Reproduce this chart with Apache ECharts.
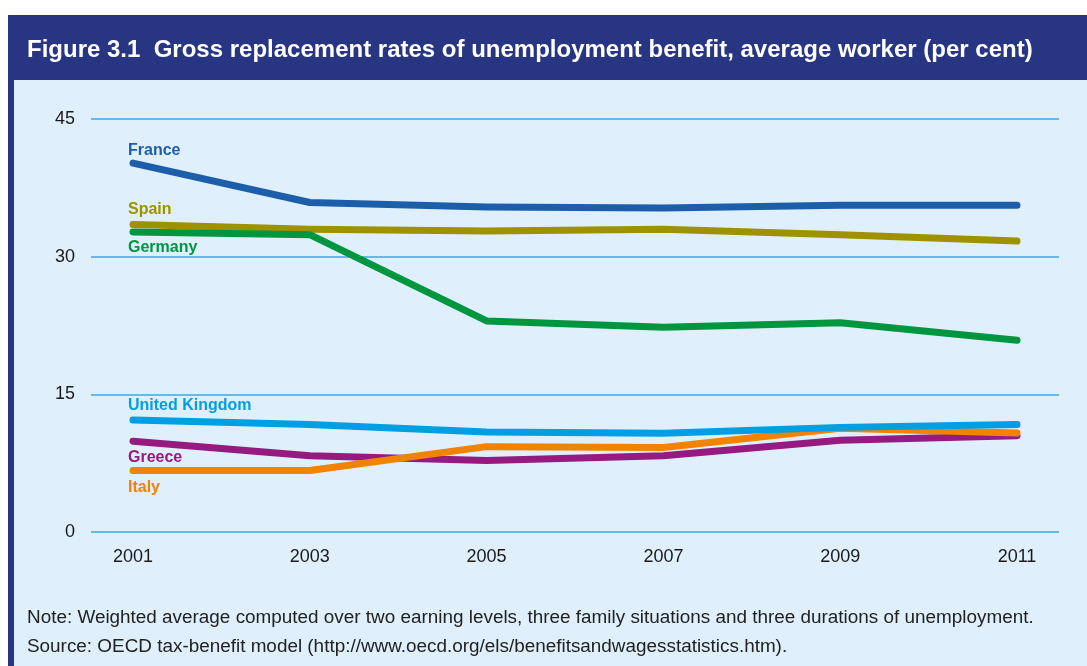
<!DOCTYPE html>
<html>
<head>
<meta charset="utf-8">
<script src="https://cdn.jsdelivr.net/npm/echarts@6/dist/echarts.min.js"></script>
<style>
  html, body { margin: 0; padding: 0; background: #ffffff; }
  #chart { width: 1087px; height: 666px; }
</style>
</head>
<body>
<div id="chart"></div>
<script>
// Years on the horizontal axis
const years = [2001, 2003, 2005, 2007, 2009, 2011];
const yTicks = [0, 15, 30, 45];

// Gross replacement rates, per cent
const france  = [40.2, 35.9, 35.4, 35.3, 35.6, 35.6];
const spain   = [33.5, 33.0, 32.8, 33.0, 32.4, 31.7];
const germany = [32.7, 32.4, 23.0, 22.3, 22.8, 20.9];
const uk      = [12.2, 11.7, 10.9, 10.75, 11.4, 11.7];
const greece  = [9.9, 8.3, 7.8, 8.3, 10.0, 10.5];
const italy   = [6.7, 6.7, 9.3, 9.2, 11.3, 10.8];

const titleText = 'Figure 3.1  Gross replacement rates of unemployment benefit, average worker (per cent)';
const noteText = 'Note: Weighted average computed over two earning levels, three family situations and three durations of unemployment.';
const sourceText = 'Source: OECD tax-benefit model (http://www.oecd.org/els/benefitsandwagesstatistics.htm).';

const FONT = 'Liberation Sans, Arial, sans-serif';

// Series styling and how far each name sits above/below its first point
const seriesDefs = [
  { name: 'Spain',          data: spain,   color: '#9e9200', labelDy: -15 },
  { name: 'Germany',        data: germany, color: '#00963f', labelDy: 16 },
  { name: 'France',         data: france,  color: '#1d5eaa', labelDy: -12 },
  { name: 'Greece',         data: greece,  color: '#951b81', labelDy: 16 },
  { name: 'Italy',          data: italy,   color: '#f08300', labelDy: 17 },
  { name: 'United Kingdom', data: uk,      color: '#009fe3', labelDy: -14 }
];

const chart = echarts.init(document.getElementById('chart'), null, { renderer: 'canvas' });

const series = seriesDefs.map(def => ({
  name: def.name,
  type: 'line',
  symbol: 'none',
  silent: true,
  animation: false,
  lineStyle: { color: def.color, width: 7, cap: 'round', join: 'round' },
  data: def.data.map((v, i) => [years[i], v])
}));

const backgrounds = [
  { type: 'rect', shape: { x: 8, y: 15, width: 1079, height: 651 }, style: { fill: '#283582' }, z: -10 },
  { type: 'rect', shape: { x: 14, y: 80, width: 1073, height: 586 }, style: { fill: '#dff0fc' }, z: -9 }
];

chart.setOption({
  animation: false,
  backgroundColor: '#ffffff',
  graphic: backgrounds,
  title: [
    {
      text: titleText,
      left: 27, top: 38, padding: 0,
      textStyle: { color: '#ffffff', fontFamily: FONT, fontWeight: 'bold', fontSize: 24 }
    },
    {
      text: noteText,
      left: 27, top: 608, padding: 0,
      textStyle: { color: '#222222', fontFamily: FONT, fontWeight: 'normal', fontSize: 18.9 }
    },
    {
      text: sourceText,
      left: 27, top: 637, padding: 0,
      textStyle: { color: '#222222', fontFamily: FONT, fontWeight: 'normal', fontSize: 18.9 }
    }
  ],
  grid: { left: 91, right: 28, top: 119, bottom: 134, containLabel: false },
  xAxis: {
    type: 'value',
    min: 2000.525,
    max: 2011.475,
    axisLine: { show: false },
    axisTick: { show: false },
    splitLine: { show: false },
    axisLabel: {
      customValues: years,
      formatter: v => String(v),
      margin: 16,
      color: '#1a1a1a',
      fontFamily: FONT,
      fontSize: 18
    }
  },
  yAxis: {
    type: 'value',
    min: 0,
    max: 45,
    interval: 15,
    axisLine: { show: false },
    axisTick: { show: false },
    splitLine: { show: true, lineStyle: { color: '#3aa8e6', width: 1.5 } },
    axisLabel: {
      customValues: yTicks,
      margin: 16,
      color: '#1a1a1a',
      fontFamily: FONT,
      fontSize: 18
    }
  },
  series: series
});

// Series names, placed next to each line's first point through the axis scales
const nameLabels = seriesDefs.map(def => {
  const p = chart.convertToPixel({ gridIndex: 0 }, [years[0], def.data[0]]);
  return {
    type: 'text',
    x: p[0] - 5,
    y: p[1] + def.labelDy,
    silent: true,
    z: 10,
    style: {
      text: def.name,
      fill: def.color,
      font: 'bold 16px ' + FONT,
      textAlign: 'left',
      textVerticalAlign: 'middle'
    }
  };
});

chart.setOption({ graphic: backgrounds.concat(nameLabels) });
</script>
</body>
</html>
